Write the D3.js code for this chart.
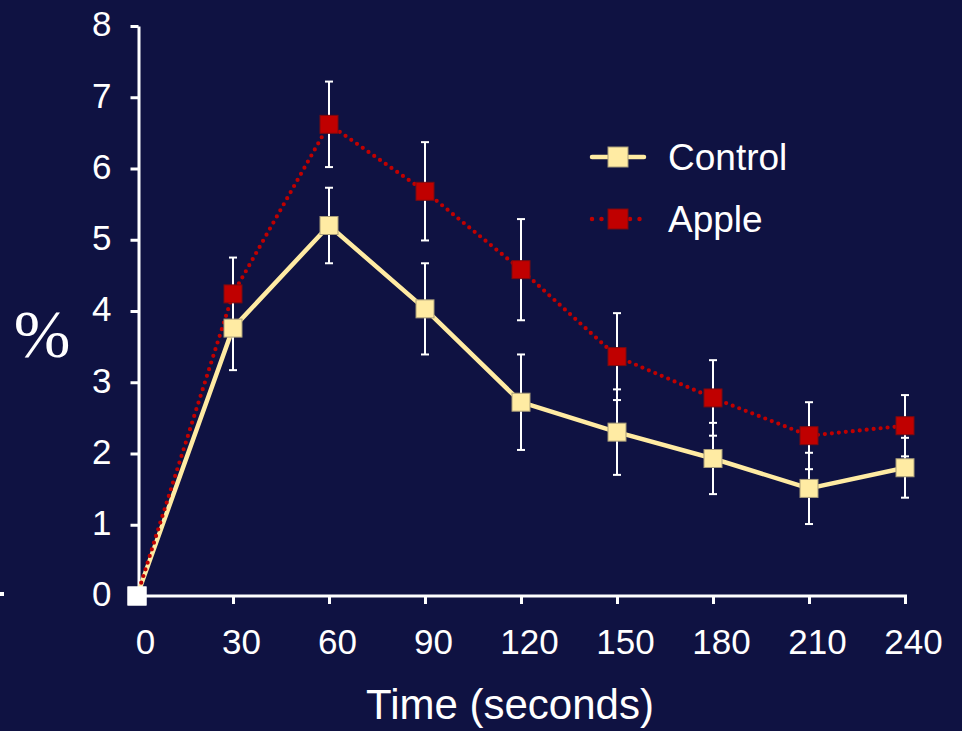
<!DOCTYPE html>
<html lang="en">
<head>
  <meta charset="UTF-8">
  <title>Control vs Apple</title>
  <script src="https://d3js.org/d3.v7.min.js"></script>
  <style>
    body {
      margin: 0;
      background: #0f1242;
    }
    svg {
      display: block;
      font-family: "Liberation Sans", Arial, sans-serif;
    }
    .axis path, .axis line {
      stroke: #fff;
      stroke-width: 3px;
    }
    .axis text {
      fill: #fff;
      font-size: 35px;
    }
    .err {
      stroke: #fff;
      stroke-width: 2px;
    }
  </style>
</head>
<body>
  <svg width="962" height="731"></svg>

  <script>
    // values
    const times = [0, 30, 60, 90, 120, 150, 180, 210, 240];
    const controlMean = [0, 3.76, 5.20, 4.03, 2.72, 2.30, 1.93, 1.51, 1.80];
    const controlErr  = [0, 0.59, 0.53, 0.64, 0.67, 0.60, 0.50, 0.50, 0.42];
    const appleMean   = [0, 4.24, 6.62, 5.68, 4.58, 3.36, 2.78, 2.25, 2.39];
    const appleErr    = [0, 0.51, 0.60, 0.69, 0.71, 0.61, 0.53, 0.47, 0.43];
    const yTicks = [0, 1, 2, 3, 4, 5, 6, 7, 8];
    const seriesNames = ["Control", "Apple"];

    const svg = d3.select("svg");

    const x = d3.scaleLinear().domain([0, 240]).range([137, 905]);
    const y = d3.scaleLinear().domain([0, 8]).range([596, 26]);

    const series = [
      {name: seriesNames[0], mean: controlMean, err: controlErr, color: "#ffeba3", edge: "#a89c78", dash: null},
      {name: seriesNames[1], mean: appleMean, err: appleErr, color: "#c00000", edge: "#7a0a10", dash: "0 7"}
    ];
    series.forEach(s => s.points = times.map((t, i) => ({t, v: s.mean[i], e: s.err[i]})));

    // stray mark at far left
    svg.append("rect").attr("x", 0).attr("y", 592).attr("width", 4).attr("height", 4).attr("fill", "#fff");

    // Y axis
    svg.append("g")
      .attr("class", "axis")
      .attr("transform", "translate(138.5,0)")
      .call(d3.axisLeft(y).tickValues(yTicks).tickSize(8).tickSizeOuter(0).tickPadding(19))
      .call(g => g.selectAll("text").attr("dy", "0.28em"));

    // X axis
    svg.append("g")
      .attr("class", "axis")
      .attr("transform", "translate(0,596)")
      .call(d3.axisBottom(x).tickValues(times).tickSize(8).tickSizeOuter(0).tickPadding(25))
      .call(g => g.select(".domain").attr("d", `M${x(0)},0H${x(240) + 2}`))
      .call(g => g.selectAll("text").attr("dx", 8));

    // Lines
    const line = d3.line().x(d => x(d.t)).y(d => y(d.v));
    series.forEach(s => {
      svg.append("path")
        .datum(s.points)
        .attr("fill", "none")
        .attr("stroke", s.color)
        .attr("stroke-width", s.dash ? 4.2 : 4.5)
        .attr("stroke-linecap", s.dash ? "round" : "butt")
        .attr("stroke-linejoin", "round")
        .attr("stroke-dasharray", s.dash)
        .attr("d", line);
    });

    // Error bars
    series.forEach(s => {
      const pts = s.points.filter(d => d.e > 0);
      const eb = svg.append("g");
      eb.selectAll("line.v").data(pts).join("line")
        .attr("class", "err")
        .attr("x1", d => x(d.t)).attr("x2", d => x(d.t))
        .attr("y1", d => y(d.v + d.e)).attr("y2", d => y(d.v - d.e));
      eb.selectAll("line.top").data(pts).join("line")
        .attr("class", "err")
        .attr("x1", d => x(d.t) - 4).attr("x2", d => x(d.t) + 4)
        .attr("y1", d => y(d.v + d.e)).attr("y2", d => y(d.v + d.e));
      eb.selectAll("line.bot").data(pts).join("line")
        .attr("class", "err")
        .attr("x1", d => x(d.t) - 4).attr("x2", d => x(d.t) + 4)
        .attr("y1", d => y(d.v - d.e)).attr("y2", d => y(d.v - d.e));
    });

    // Markers
    const m = 18;
    series.forEach(s => {
      svg.append("g").selectAll("rect").data(s.points).join("rect")
        .attr("x", d => x(d.t) - m / 2)
        .attr("y", d => y(d.v) - m / 2)
        .attr("width", m).attr("height", m)
        .attr("fill", d => d.t === 0 ? "#ffffff" : s.color)
        .attr("stroke", d => d.t === 0 ? "#ffffff" : s.edge)
        .attr("stroke-width", 1);
    });

    // Legend
    const legend = svg.append("g").attr("transform", "translate(592,157)");
    series.forEach((s, i) => {
      const row = legend.append("g").attr("transform", `translate(0,${i * 62})`);
      row.append("line")
        .attr("x1", 0).attr("x2", 52)
        .attr("stroke", s.color)
        .attr("stroke-width", 4.5)
        .attr("stroke-linecap", "round")
        .attr("stroke-dasharray", s.dash ? "0 9.5" : null);
      row.append("rect")
        .attr("x", 16).attr("y", -10).attr("width", 20).attr("height", 20)
        .attr("fill", s.color).attr("stroke", s.edge).attr("stroke-width", 1);
      row.append("text")
        .attr("x", 76).attr("y", 13)
        .attr("fill", "#fff")
        .style("font-size", "37px")
        .text(s.name);
    });

    // X label
    svg.append("text")
      .attr("x", 510)
      .attr("y", 719)
      .attr("text-anchor", "middle")
      .attr("fill", "#fff")
      .style("font-size", "42px")
      .text("Time (seconds)");

    // Y label
    svg.append("text")
      .attr("x", 42)
      .attr("y", 357)
      .attr("text-anchor", "middle")
      .attr("fill", "#fff")
      .style("font-family", "'Liberation Serif', 'Times New Roman', serif")
      .style("font-size", "68px")
      .text("%");
  </script>
</body>
</html>
